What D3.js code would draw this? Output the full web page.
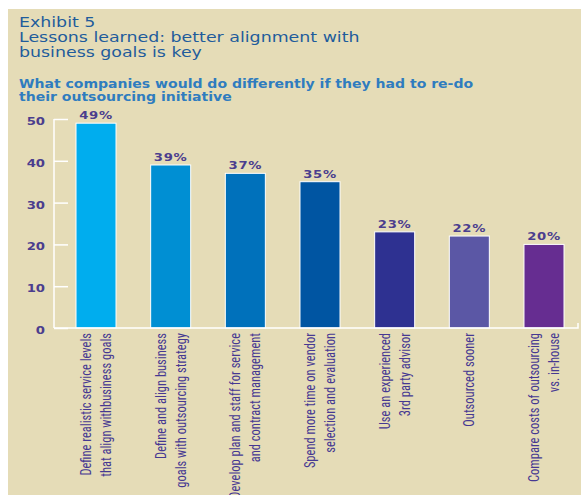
<!DOCTYPE html>
<html>
<head>
<meta charset="utf-8">
<script src="https://cdn.jsdelivr.net/npm/d3@7"></script>
<style>
	html, body { margin: 0; padding: 0; background: #fff; }
	svg { display: block; }
</style>
</head>
<body>
<div id="chart"></div>
<script>
'use strict';

//chart data
var categories = [
	'Define realistic service levels\nthat align withbusiness goals',
	'Define and align business\ngoals with outsourcing strategy',
	'Develop plan and staff for service\nand contract management',
	'Spend more time on vendor\nselection and evaluation',
	'Use an experienced\n3rd party advisor',
	'Outsourced sooner',
	'Compare costs of outsourcing\nvs. in-house'
];
var values = [49, 39, 37, 35, 23, 22, 20];
var yTicks = [0, 10, 20, 30, 40, 50];

var titleLines = ['Exhibit 5', 'Lessons learned: better alignment with', 'business goals is key'];
var subtitleLines = ['What companies would do differently if they had to re-do', 'their outsourcing initiative'];

//one colour per bar, cyan through to purple
var barColors = ['#00adee', '#008fd3', '#0071bb', '#0055a2', '#2e3191', '#5b57a5', '#662d91'];

var width = 581,
	height = 495;

// the original artwork is a bit stretched sideways, text gets the same stretch
var stretch = 1.2;

var svg = d3.select('#chart').append('svg')
	.attr('width', width)
	.attr('height', height);

//beige panel
svg.append('rect')
	.attr('x', 8)
	.attr('y', 9)
	.attr('width', width - 8)
	.attr('height', height - 9)
	.attr('fill', '#e5dcb7');

//titles
svg.append('g').selectAll('text')
	.data(titleLines)
	.join('text')
	.attr('transform', function (d, i) { return 'translate(19,' + (27 + i * 15) + ') scale(' + stretch + ',1)'; })
	.attr('font-family', 'DejaVu Sans')
	.attr('font-size', 14.5)
	.attr('fill', '#1f5c9c')
	.text(function (d) { return d; });

svg.append('g').selectAll('text')
	.data(subtitleLines)
	.join('text')
	.attr('transform', function (d, i) { return 'translate(19,' + (88 + i * 13) + ') scale(' + stretch + ',1)'; })
	.attr('font-family', 'DejaVu Sans')
	.attr('font-weight', 'bold')
	.attr('font-size', 11.7)
	.attr('fill', '#2f7cbf')
	.text(function (d) { return d; });

//scales
var x = d3.scaleBand()
	.domain(d3.range(values.length))
	.range([76, 564])
	.paddingInner(0.464)
	.paddingOuter(0);

var y = d3.scaleLinear()
	.domain([0, 50])
	.range([328, 119]);

var axisLeft = 54,
	axisRight = 578;

//bars with a thin white edge
svg.append('g').selectAll('rect')
	.data(values)
	.join('rect')
	.attr('x', function (d, i) { return x(i); })
	.attr('y', function (d) { return y(d); })
	.attr('width', x.bandwidth())
	.attr('height', function (d) { return y(0) - y(d); })
	.attr('fill', function (d, i) { return barColors[i]; })
	.attr('stroke', '#ffffff')
	.attr('stroke-width', 1);

//y axis: white line with ticks pointing into the plot
var yAxis = d3.axisRight(y)
	.tickValues(yTicks)
	.tickSize(14)
	.tickFormat('');

var axisG = svg.append('g')
	.attr('transform', 'translate(' + axisLeft + ',0)')
	.call(yAxis);
axisG.selectAll('path, line')
	.attr('stroke', '#ffffff')
	.attr('stroke-width', 1.5);
axisG.select('.domain')
	.attr('d', 'M0,' + y(50) + 'V' + y(0));

//tick labels on the outside of the axis
svg.append('g').selectAll('text')
	.data(yTicks)
	.join('text')
	.attr('transform', function (d) { return 'translate(45,' + (y(d) + 6) + ') scale(' + stretch + ',1)'; })
	.attr('text-anchor', 'end')
	.attr('font-family', 'DejaVu Sans')
	.attr('font-weight', 'bold')
	.attr('font-size', 11)
	.attr('fill', '#4b3e8e')
	.text(function (d) { return d; });

//base line with a little end tick
svg.append('path')
	.attr('d', 'M' + axisLeft + ',' + y(0) + 'H' + axisRight + 'V' + (y(0) - 5))
	.attr('fill', 'none')
	.attr('stroke', '#ffffff')
	.attr('stroke-width', 1.5);

//percentage labels above the bars
svg.append('g').selectAll('text')
	.data(values)
	.join('text')
	.attr('transform', function (d, i) {
		return 'translate(' + (x(i) + x.bandwidth() / 2) + ',' + (y(d) - 4) + ') scale(' + stretch + ',1)';
	})
	.attr('text-anchor', 'middle')
	.attr('font-family', 'DejaVu Sans')
	.attr('font-weight', 'bold')
	.attr('font-size', 11)
	.attr('letter-spacing', 0.6)
	.attr('fill', '#4b3e8e')
	.text(function (d) { return d + '%'; });

//rotated category labels, one or two lines each, reading bottom to top
var labelG = svg.append('g').selectAll('g')
	.data(categories)
	.join('g')
	.attr('transform', function (d, i) {
		var lines = d.split('\n');
		var cx = x(i) + x.bandwidth() / 2 + (lines.length > 1 ? -5 : 5);
		return 'translate(' + cx + ',' + (y(0) + 5) + ') scale(1.15,1) rotate(-90)';
	});

labelG.selectAll('text')
	.data(function (d) { return d.split('\n'); })
	.join('text')
	.attr('x', 0)
	.attr('y', function (d, i) { return i * 17.4; })
	.attr('text-anchor', 'end')
	.attr('font-family', 'Roboto Condensed, Roboto, sans-serif')
	.attr('font-size', 12.5)
	.attr('fill', '#463892')
	.text(function (d) { return d; });
</script>
</body>
</html>
